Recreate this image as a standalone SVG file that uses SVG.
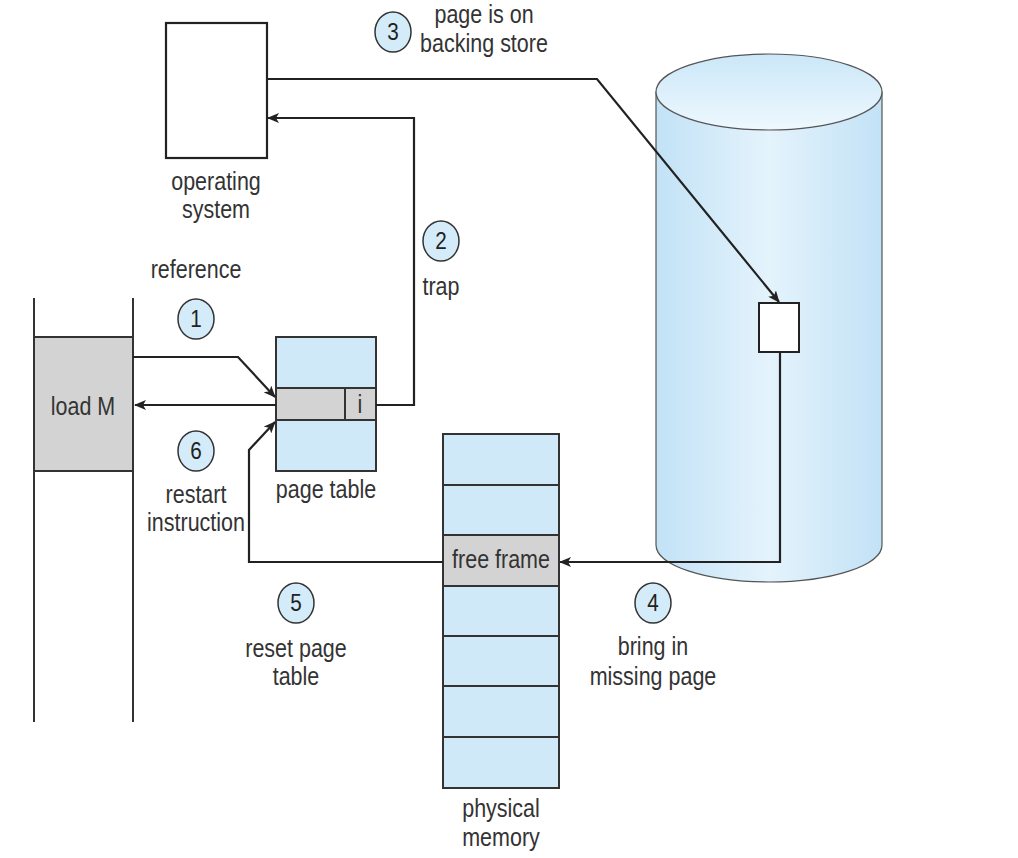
<svg xmlns="http://www.w3.org/2000/svg" width="1018" height="858" viewBox="0 0 1018 858">
<defs>
<linearGradient id="cylSide" x1="0" y1="0" x2="1" y2="0">
<stop offset="0" stop-color="#c2e2f6"/>
<stop offset="0.5" stop-color="#e4f3fc"/>
<stop offset="1" stop-color="#c2e2f6"/>
</linearGradient>
<linearGradient id="cylTop" x1="0" y1="0" x2="0" y2="1">
<stop offset="0" stop-color="#cbe7f8"/>
<stop offset="1" stop-color="#eef8fe"/>
</linearGradient>
<marker id="ah" markerUnits="userSpaceOnUse" markerWidth="12" markerHeight="10" refX="11" refY="5" orient="auto">
<path d="M0,0 L12,5 L0,10 L3,5 Z" fill="#222"/>
</marker>
</defs>
<style>
.t{font-family:"Liberation Sans",Arial,sans-serif;font-size:25px;fill:#333;text-anchor:middle}
.n{font-family:"Liberation Sans",Arial,sans-serif;font-size:23px;fill:#222;text-anchor:middle}
.blue{fill:#cfe9f9;stroke:#333;stroke-width:2}
.gray{fill:#d3d3d3;stroke:#333;stroke-width:2}
.line{fill:none;stroke:#222;stroke-width:2.2}
.circ{fill:#d4ecf9;stroke:#333;stroke-width:1.5}
</style>
<rect width="1018" height="858" fill="#fff"/>

<g id="backing-store">
<path d="M656,92 L656,545 A113,37 0 0 0 882,545 L882,92 Z" fill="url(#cylSide)" stroke="#555" stroke-width="1.2"/>
<ellipse cx="769" cy="92" rx="113" ry="38" fill="url(#cylTop)" stroke="#555" stroke-width="1.2"/>
<rect x="759" y="303" width="40" height="49" fill="#fff" stroke="#222" stroke-width="2"/>
</g>

<g id="operating-system">
<rect x="166" y="23" width="101" height="135" fill="#fff" stroke="#222" stroke-width="2.2"/>
<text class="t" transform="translate(216,190) scale(0.86,1)">operating</text>
<text class="t" transform="translate(216,218) scale(0.86,1)">system</text>
</g>

<g id="program">
<line x1="34" y1="298" x2="34" y2="722" stroke="#333" stroke-width="2"/>
<line x1="133" y1="298" x2="133" y2="722" stroke="#333" stroke-width="2"/>
<rect x="34" y="337" width="99" height="134" class="gray"/>
<text class="t" transform="translate(83,415) scale(0.86,1)">load M</text>
</g>

<g id="page-table">
<rect x="276" y="337" width="100" height="134" class="blue"/>
<rect x="276" y="388" width="100" height="32" class="gray"/>
<line x1="345" y1="388" x2="345" y2="420" stroke="#333" stroke-width="2"/>
<text class="t" transform="translate(360,413) scale(0.86,1)">i</text>
<text class="t" transform="translate(326,498) scale(0.86,1)">page table</text>
</g>

<g id="physical-memory">
<rect x="443" y="434" width="116" height="354" class="blue"/>
<rect x="443" y="535" width="116" height="51" class="gray"/>
<line x1="443" y1="485" x2="559" y2="485" stroke="#333" stroke-width="2"/>
<line x1="443" y1="636" x2="559" y2="636" stroke="#333" stroke-width="2"/>
<line x1="443" y1="686" x2="559" y2="686" stroke="#333" stroke-width="2"/>
<line x1="443" y1="737" x2="559" y2="737" stroke="#333" stroke-width="2"/>
<text class="t" transform="translate(501,568) scale(0.86,1)">free frame</text>
<text class="t" transform="translate(501,817) scale(0.86,1)">physical</text>
<text class="t" transform="translate(501,846) scale(0.86,1)">memory</text>
</g>

<g id="connectors">
<path class="line" d="M133,357 H238 L275,397" marker-end="url(#ah)"/>
<path class="line" d="M376,405 H414 V118 H268" marker-end="url(#ah)"/>
<path class="line" d="M267,79 H597 L779,302" marker-end="url(#ah)"/>
<path class="line" d="M780,352 V562 H560" marker-end="url(#ah)"/>
<path class="line" d="M443,562 H249 V450 L275,422" marker-end="url(#ah)"/>
<path class="line" d="M276,405 H135" marker-end="url(#ah)"/>
</g>

<g id="step1">
<ellipse cx="196" cy="319" rx="18" ry="20" class="circ"/>
<text class="n" transform="translate(196,327) scale(0.9,1)">1</text>
<text class="t" transform="translate(196,278) scale(0.86,1)">reference</text>
</g>
<g id="step2">
<ellipse cx="441" cy="241" rx="18" ry="20" class="circ"/>
<text class="n" transform="translate(441,249) scale(0.9,1)">2</text>
<text class="t" transform="translate(441,295) scale(0.86,1)">trap</text>
</g>
<g id="step3">
<ellipse cx="393" cy="32" rx="18" ry="20" class="circ"/>
<text class="n" transform="translate(393,40) scale(0.9,1)">3</text>
<text class="t" transform="translate(484,23) scale(0.86,1)">page is on</text>
<text class="t" transform="translate(484,52) scale(0.86,1)">backing store</text>
</g>
<g id="step4">
<ellipse cx="653" cy="603" rx="18" ry="20" class="circ"/>
<text class="n" transform="translate(653,611) scale(0.9,1)">4</text>
<text class="t" transform="translate(653,655) scale(0.86,1)">bring in</text>
<text class="t" transform="translate(653,685) scale(0.86,1)">missing page</text>
</g>
<g id="step5">
<ellipse cx="296" cy="603" rx="18" ry="20" class="circ"/>
<text class="n" transform="translate(296,611) scale(0.9,1)">5</text>
<text class="t" transform="translate(296,657) scale(0.86,1)">reset page</text>
<text class="t" transform="translate(296,685) scale(0.86,1)">table</text>
</g>
<g id="step6">
<ellipse cx="196" cy="451" rx="18" ry="20" class="circ"/>
<text class="n" transform="translate(196,459) scale(0.9,1)">6</text>
<text class="t" transform="translate(196,503) scale(0.86,1)">restart</text>
<text class="t" transform="translate(196,531) scale(0.86,1)">instruction</text>
</g>
</svg>
